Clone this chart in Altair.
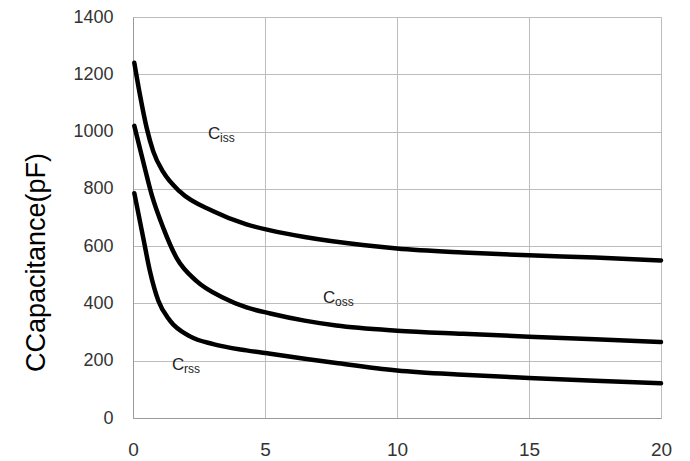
import altair as alt
import pandas as pd

# Ciss
ciss_x = [0.05, 0.27, 0.52, 0.77, 1.15, 1.78, 3.04, 4.3, 5.2, 6.5, 8.7, 10, 12.5, 15, 17.5, 20]
ciss_y = [1240, 1125, 1012, 930, 858, 790, 722, 676, 655, 632, 604, 592, 578, 568, 560, 550]
# Coss
coss_x = [0.05, 0.39, 0.71, 1.15, 1.65, 2.41, 3.42, 4.3, 5.2, 6.5, 7.7, 10, 12.5, 15, 17.5, 20]
coss_y = [1020, 894, 779, 663, 559, 478, 420, 386, 365, 340, 323, 305, 294, 284, 275, 265]
# Crss
crss_x = [0.05, 0.39, 0.64, 0.96, 1.4, 2.16, 3.04, 4.3, 5.2, 6.5, 7.7, 10, 12.5, 15, 17.5, 20]
crss_y = [785, 628, 513, 409, 340, 285, 258, 236, 224, 207, 192, 166, 151, 140, 130, 121]

# curve labels
label_main = ["C", "C", "C"]
label_sub = ["iss", "oss", "rss"]
label_x = [2.84, 7.2, 1.48]
label_y = [974, 402, 166]

x_ticks = [0, 5, 10, 15, 20]
y_ticks = [0, 200, 400, 600, 800, 1000, 1200, 1400]

rows = []
for name, xs, ys in [("Ciss", ciss_x, ciss_y), ("Coss", coss_x, coss_y), ("Crss", crss_x, crss_y)]:
    for xv, yv in zip(xs, ys):
        rows.append({"series": name, "x": xv, "y": yv})
df = pd.DataFrame(rows)
lab = pd.DataFrame({"main": label_main, "sub": label_sub, "x": label_x, "y": label_y})

FONT = "Liberation Sans"

xscale = alt.Scale(domain=[0, 20], nice=False, zero=False)
yscale = alt.Scale(domain=[0, 1400], nice=False)

lines = alt.Chart(df).mark_line(
    color="black", strokeWidth=4.5, interpolate="monotone", strokeCap="round"
).encode(
    x=alt.X("x:Q", scale=xscale, axis=alt.Axis(
        values=x_ticks, title=None, ticks=False, labelPadding=22, format="d",
        labelFontSize=19, labelColor="#333333", labelFont=FONT,
        gridColor="#bcbcbc", domainColor="#9a9a9a", labelFlush=False)),
    y=alt.Y("y:Q", scale=yscale, axis=alt.Axis(
        values=y_ticks, title="CCapacitance(pF)", ticks=False, labelPadding=20, format="d",
        labelFontSize=18, labelColor="#333333", labelFont=FONT,
        gridColor="#bcbcbc", domainColor="#9a9a9a",
        titleFont=FONT, titleFontSize=27, titleFontWeight="normal", titleColor="black",
        titleAngle=270, titleBaseline="alphabetic", titleAlign="center",
        titleX=-89, titleY=245, labelFlush=False)),
    detail="series:N",
)

main_text = alt.Chart(lab).mark_text(
    align="left", baseline="alphabetic", fontSize=17, font=FONT, color="#222222"
).encode(x=alt.X("x:Q", scale=xscale), y=alt.Y("y:Q", scale=yscale), text="main:N")

sub_text = alt.Chart(lab).mark_text(
    align="left", baseline="alphabetic", fontSize=12, font=FONT, color="#222222", dx=12, dy=3
).encode(x=alt.X("x:Q", scale=xscale), y=alt.Y("y:Q", scale=yscale), text="sub:N")

chart = alt.layer(lines, main_text, sub_text).properties(
    width=528, height=401,
    autosize=alt.AutoSizeParams(type="none"),
    padding={"left": 125, "top": 9, "right": 21, "bottom": 43},
).configure_view(stroke="#9a9a9a", strokeWidth=1).configure(background="white")

chart.save("out.html", embed_options={"renderer": "svg", "actions": False})
